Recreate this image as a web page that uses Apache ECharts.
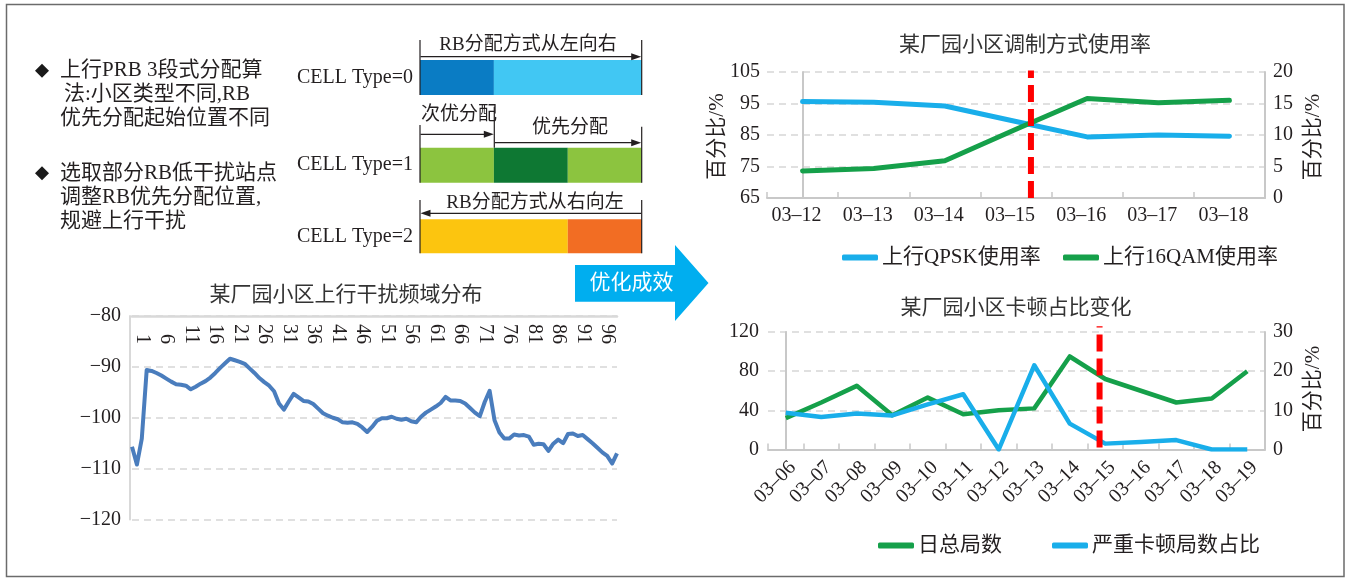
<!DOCTYPE html>
<html>
<head>
<meta charset="utf-8">
<script src="https://cdn.jsdelivr.net/npm/echarts@6/dist/echarts.min.js"></script>
<style>
  html, body { margin: 0; padding: 0; background: #fff; }
  #chart { width: 1352px; height: 580px; }
</style>
</head>
<body>
<div id="chart"></div>
<script>
// ---- uplink interference per RB (dBm), RB 1..100 ----
const rbNumbers = Array.from({ length: 100 }, (_, i) => String(i + 1));
const interference = [
  -105.7, -109.2, -104.1, -90.6, -90.8, -91.2, -91.7, -92.3, -92.9, -93.4,
  -93.5, -93.7, -94.4, -93.9, -93.3, -92.8, -92.1, -91.2, -90.2, -89.3,
  -88.4, -88.7, -89.0, -89.4, -90.3, -91.2, -92.2, -93.0, -93.7, -94.8,
  -97.2, -98.4, -96.8, -95.3, -96.0, -96.7, -96.8, -97.3, -98.2, -99.1,
  -99.6, -100.0, -100.3, -100.9, -101.0, -100.9, -101.2, -101.9, -102.8, -101.8,
  -100.6, -100.1, -100.1, -99.8, -100.2, -100.4, -100.2, -100.7, -100.9, -99.8,
  -99.0, -98.4, -97.8, -97.1, -95.9, -96.6, -96.6, -96.7, -97.2, -98.1,
  -99.0, -99.7, -96.9, -94.7, -100.5, -102.9, -104.1, -104.1, -103.3, -103.5,
  -103.4, -103.7, -105.3, -105.1, -105.2, -106.5, -105.1, -104.3, -105.0, -103.2,
  -103.1, -103.6, -103.4, -104.2, -105.0, -105.9, -106.8, -107.5, -109.0, -107.0
];

// ---- modulation usage (%) ----
const modDates = ['03–12', '03–13', '03–14', '03–15', '03–16', '03–17', '03–18'];
const qpskRate = [95.6, 95.4, 94.2, 89.3, 84.4, 85.0, 84.6];
const qam16Rate = [4.3, 4.7, 5.9, 10.9, 15.8, 15.1, 15.5];
const modSwitchAt = 3.21;   // optimisation moment, in day-index units

// ---- stall statistics ----
const stallDates = ['03–06', '03–07', '03–08', '03–09', '03–10', '03–11', '03–12',
  '03–13', '03–14', '03–15', '03–16', '03–17', '03–18', '03–19'];
const dailyGames = [32, 48, 65, 35, 53, 36, 40, 42, 95, 72, 60, 48, 52, 80];
const stallRatio = [9.4, 8.3, 9.2, 8.7, 11.5, 14.1, 0, 21.5, 6.6, 1.5, 1.9, 2.4, 0, 0];
const stallSwitchAt = 8.84;

// ---- RB allocation segments (in thirds of the band) ----
const cellTypes = ['CELL Type=0', 'CELL Type=1', 'CELL Type=2'];
const rbSegType0 = [1, 2];
const rbSegType1 = [1, 1, 1];
const rbSegType2 = [2, 1];

const SERIF = '"Liberation Serif", "Noto Sans CJK SC", serif';
const TXT = '#231f20';
const AXIS_GRAY = '#c8c8c8';
const SPLIT = { show: true, lineStyle: { color: '#d6d6d6', width: 1.5, type: [7, 5] } };
const BLUE = '#19aeea';
const GREEN = '#15a04a';
const RED = '#ff0000';

const labelStyle = { color: TXT, fontSize: 20, fontFamily: SERIF };
const minusFmt = v => String(v).replace('-', '−');

// Bar-grid positions for the three CELL types
const rbRows = [
  { top: 60, height: 35 },
  { top: 147.7, height: 35 },
  { top: 219.3, height: 34 }
];
const rbSegs = [rbSegType0, rbSegType1, rbSegType2];
const rbColors = [
  ['#0a7cc4', '#41c7f3'],
  ['#8cc43f', '#0e7833', '#8cc43f'],
  ['#fcc50f', '#f26d23']
];

const grids = [
  { left: 767, top: 72, width: 498, height: 126 },      // modulation
  { left: 132, top: 316, width: 485, height: 203.5 },   // interference
  { left: 768, top: 332, width: 497, height: 117.5 },   // stall
  ...rbRows.map(r => ({ left: 420, width: 221.7, top: r.top, height: r.height }))
];

const xAxes = [
  { gridIndex: 0, type: 'category', data: modDates, boundaryGap: true,
    axisLine: { lineStyle: { color: AXIS_GRAY, width: 2 } },
    axisTick: { show: true, inside: true, length: 6, lineStyle: { color: AXIS_GRAY, width: 1.5 } },
    axisLabel: { ...labelStyle, margin: 8, interval: 0, padding: [0, 12, 0, 0] },
    splitLine: { show: false } },
  { gridIndex: 0, type: 'value', min: -0.5, max: modDates.length - 0.5, show: false },
  // RB index axis along the top edge; labels hang just below the line
  { gridIndex: 1, type: 'category', data: rbNumbers, boundaryGap: false, position: 'top',
    axisLine: { onZero: false, lineStyle: { color: '#d9d9d9', width: 2.5 } },
    axisTick: { show: false },
    axisLabel: { ...labelStyle, rotate: 90, interval: 4, verticalAlign: 'bottom', margin: -28 },
    splitLine: { show: false } },
  { gridIndex: 2, type: 'category', data: stallDates, boundaryGap: true,
    axisLine: { lineStyle: { color: AXIS_GRAY, width: 2 } },
    axisTick: { show: true, inside: true, length: 6, lineStyle: { color: AXIS_GRAY, width: 1.5 } },
    axisLabel: { ...labelStyle, rotate: 45, margin: 8, interval: 0, verticalAlign: 'top' },
    splitLine: { show: false } },
  { gridIndex: 2, type: 'value', min: -0.5, max: stallDates.length - 0.5, show: false },
  ...rbRows.map((_, i) => ({ gridIndex: 3 + i, type: 'value', min: 0, max: 3, show: false }))
];

const yAxes = [
  { gridIndex: 0, type: 'value', min: 65, max: 105, interval: 10, position: 'left',
    axisLine: { show: true, lineStyle: { color: AXIS_GRAY, width: 2 } }, axisTick: { show: false },
    axisLabel: { ...labelStyle, margin: 7 }, splitLine: SPLIT },
  { gridIndex: 0, type: 'value', min: 0, max: 20, interval: 5, position: 'right',
    axisLine: { show: true, lineStyle: { color: AXIS_GRAY, width: 2 } }, axisTick: { show: false },
    axisLabel: { ...labelStyle, margin: 8 }, splitLine: { show: false } },
  { gridIndex: 1, type: 'value', min: -120, max: -80, interval: 10, offset: 2,
    axisLine: { show: true, lineStyle: { color: '#d9d9d9', width: 2 } }, axisTick: { show: false },
    axisLabel: { ...labelStyle, margin: 9, formatter: minusFmt }, splitLine: SPLIT },
  { gridIndex: 2, type: 'value', min: 0, max: 120, interval: 40, position: 'left',
    axisLine: { show: true, lineStyle: { color: AXIS_GRAY, width: 2 } }, axisTick: { show: false },
    axisLabel: { ...labelStyle, margin: 9 }, splitLine: SPLIT },
  { gridIndex: 2, type: 'value', min: 0, max: 30, interval: 10, position: 'right',
    axisLine: { show: true, lineStyle: { color: AXIS_GRAY, width: 2 } }, axisTick: { show: false },
    axisLabel: { ...labelStyle, margin: 8 }, splitLine: { show: false } },
  ...rbRows.map((_, i) => ({ gridIndex: 3 + i, type: 'category', data: [cellTypes[i]],
    axisLine: { show: false }, axisTick: { show: false },
    axisLabel: { ...labelStyle, margin: 7 } }))
];

const lineBase = { type: 'line', symbol: 'none', smooth: false, z: 3 };

const series = [
  { ...lineBase, name: '上行QPSK使用率', xAxisIndex: 0, yAxisIndex: 0, data: qpskRate,
    color: BLUE, lineStyle: { color: BLUE, width: 5, cap: 'round', join: 'round' } },
  { ...lineBase, name: '上行16QAM使用率', xAxisIndex: 0, yAxisIndex: 1, data: qam16Rate,
    color: GREEN, lineStyle: { color: GREEN, width: 5, cap: 'round', join: 'round' } },
  { ...lineBase, name: 'switch1', xAxisIndex: 1, yAxisIndex: 0, clip: false, z: 5,
    data: [[modSwitchAt, 65], [modSwitchAt, 105.5]],
    lineStyle: { color: RED, width: 6, type: [17, 7] } },
  { ...lineBase, name: '干扰', xAxisIndex: 2, yAxisIndex: 2, data: interference,
    lineStyle: { color: '#4a7dbd', width: 4, join: 'round' } },
  { ...lineBase, name: '日总局数', xAxisIndex: 3, yAxisIndex: 3, data: dailyGames,
    color: GREEN, lineStyle: { color: GREEN, width: 4.5, join: 'round' } },
  { ...lineBase, name: '严重卡顿局数占比', xAxisIndex: 3, yAxisIndex: 4, data: stallRatio,
    color: BLUE, lineStyle: { color: BLUE, width: 4.5, join: 'round' } },
  { ...lineBase, name: 'switch2', xAxisIndex: 4, yAxisIndex: 3, clip: false, z: 5,
    data: [[stallSwitchAt, 2], [stallSwitchAt, 126]],
    lineStyle: { color: RED, width: 6, type: [17, 7] } }
];

rbSegs.forEach((segs, row) => {
  segs.forEach((v, k) => {
    series.push({
      type: 'bar', name: cellTypes[row] + '-' + k, stack: 'rb' + row,
      xAxisIndex: 5 + row, yAxisIndex: 5 + row, barWidth: '100%',
      data: [v], itemStyle: { color: rbColors[row][k] }, silent: true
    });
  });
});

const legendBase = {
  orient: 'horizontal', padding: 0, icon: 'roundRect', itemWidth: 36, itemHeight: 6,
  selectedMode: false, textStyle: { color: TXT, fontSize: 21, fontFamily: SERIF, padding: [0, 0, 0, -1] }
};
const legends = [
  { ...legendBase, data: ['上行QPSK使用率'], left: 842, top: 247 },
  { ...legendBase, data: ['上行16QAM使用率'], left: 1063, top: 247 },
  { ...legendBase, data: ['日总局数'], left: 878, top: 535 },
  { ...legendBase, data: ['严重卡顿局数占比'], left: 1052, top: 535 }
];

// ---- annotation graphics ----
const g = [];
const txt = (x, y, text, size, opts = {}) => g.push({
  type: 'text', x, y, rotation: opts.rotation || 0, z: 10,
  style: { text, fill: opts.fill || TXT, fontSize: size, fontFamily: SERIF,
    align: opts.align || 'left', verticalAlign: 'middle' }
});
const vline = (x, y1, y2) => g.push({ type: 'line', z: 10,
  shape: { x1: x, y1, x2: x, y2 }, style: { stroke: TXT, lineWidth: 1.2 } });
const arrow = (x1, x2, y) => {
  const dir = x2 > x1 ? 1 : -1;
  g.push({ type: 'line', z: 10, shape: { x1, y1: y, x2: x2 - dir * 6, y2: y },
    style: { stroke: TXT, lineWidth: 1.2 } });
  g.push({ type: 'polygon', z: 10,
    shape: { points: [[x2, y], [x2 - dir * 10, y - 3.5], [x2 - dir * 10, y + 3.5]] },
    style: { fill: TXT } });
};

// frame
g.push({ type: 'rect', z: 0, shape: { x: 6.5, y: 4.5, width: 1337.5, height: 572 },
  style: { fill: 'none', stroke: '#6b6b6b', lineWidth: 1.5 } });

// bullet notes
const bullet = (x, y) => g.push({ type: 'polygon', z: 10,
  shape: { points: [[x, y - 7], [x + 7, y], [x, y + 7], [x - 7, y]] }, style: { fill: '#1a1a1a' } });
bullet(42, 70.7);
bullet(42, 173.3);
txt(60, 70.7, '上行PRB 3段式分配算', 21);
txt(64, 94, '法:小区类型不同,RB', 21);
txt(60, 118.3, '优先分配起始位置不同', 21);
txt(60, 173.3, '选取部分RB低干扰站点', 21);
txt(60, 197.3, '调整RB优先分配位置,', 21);
txt(60, 221, '规避上行干扰', 21);

// RB allocation annotations
vline(420, 40, 95); vline(641.7, 40, 95);
arrow(420.5, 641.2, 56.7);
txt(528, 45, 'RB分配方式从左向右', 19, { align: 'center' });

vline(420, 125, 182.7); vline(494.3, 106.7, 147.7); vline(641.7, 126.7, 182.7);
arrow(420.5, 493.8, 134.3);
arrow(494.8, 641.2, 142.7);
txt(421, 115, '次优分配', 19);
txt(570, 128.3, '优先分配', 19, { align: 'center' });

vline(420, 200, 253.3); vline(641.7, 200, 253.3);
arrow(641.2, 420.5, 213.3);
txt(535, 202.7, 'RB分配方式从右向左', 19, { align: 'center' });

// "优化成效" arrow
g.push({ type: 'polygon', z: 10,
  shape: { points: [[575, 265], [675, 265], [675, 245], [708.5, 283], [675, 321], [675, 301.7], [575, 301.7]] },
  style: { fill: '#00aeef' } });
txt(631.5, 283, '优化成效', 21, { align: 'center', fill: '#ffffff' });

// chart titles
txt(1025, 45, '某厂园小区调制方式使用率', 21, { align: 'center', fill: '#333' });
txt(346, 295, '某厂园小区上行干扰频域分布', 21, { align: 'center', fill: '#333' });
txt(1016, 308.3, '某厂园小区卡顿占比变化', 21, { align: 'center', fill: '#333' });

// axis names
txt(717, 136.5, '百分比/%', 21, { align: 'center', rotation: Math.PI / 2 });
txt(1313, 137, '百分比/%', 21, { align: 'center', rotation: Math.PI / 2 });
txt(1313, 389, '百分比/%', 21, { align: 'center', rotation: Math.PI / 2 });

const chart = echarts.init(document.getElementById('chart'), null, { renderer: 'canvas' });
chart.setOption({
  backgroundColor: '#ffffff',
  animation: false,
  textStyle: { fontFamily: SERIF },
  grid: grids.map(gr => ({ ...gr, containLabel: false, outerBoundsMode: 'none' })),
  xAxis: xAxes,
  yAxis: yAxes,
  legend: legends,
  series,
  graphic: { elements: g }
});
</script>
</body>
</html>
